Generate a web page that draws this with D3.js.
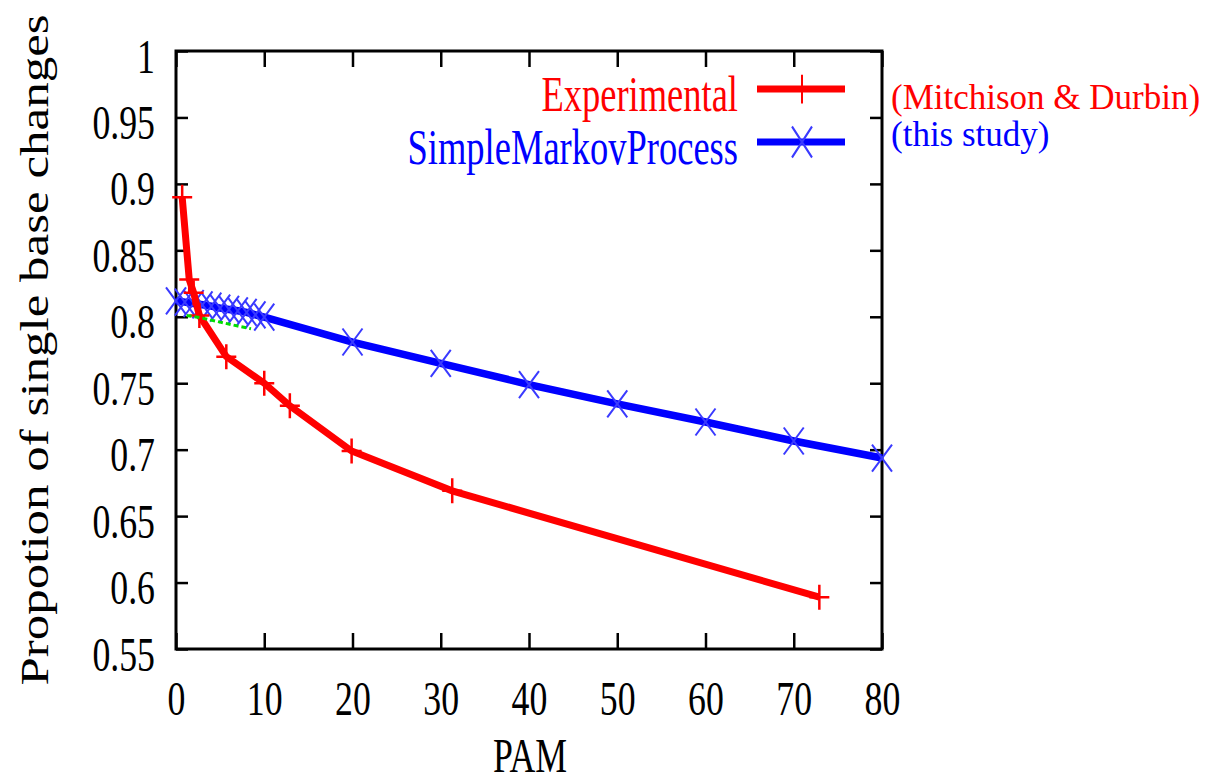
<!DOCTYPE html>
<html>
<head>
<meta charset="utf-8">
<script src="https://cdn.jsdelivr.net/npm/d3@7"></script>
<style>
  body { margin: 0; background: #fff; }
  text { font-family: "Liberation Serif", "Times New Roman", serif; }
</style>
</head>
<body>
<div id="chart"></div>
<script>
// values
var xTicks = [0, 10, 20, 30, 40, 50, 60, 70, 80];
var yTicks = [0.55, 0.6, 0.65, 0.7, 0.75, 0.8, 0.85, 0.9, 0.95, 1];

var expPam = [0.7, 1.5, 2.0, 2.65, 5.7, 10, 12.9, 19.9, 31.3, 72.9];
var expVal = [0.890, 0.828, 0.818, 0.801, 0.770, 0.750, 0.733, 0.699, 0.669, 0.589];

var markovPam = [0, 1, 2, 3, 4, 5, 6, 7, 8, 9, 10, 20, 30, 40, 50, 60, 70, 80];
var markovVal = [0.812, 0.811, 0.810, 0.809, 0.808, 0.8065, 0.8055, 0.8045, 0.8033, 0.8015, 0.7998,
                 0.781, 0.765, 0.749, 0.7345, 0.7208, 0.7065, 0.6937];

var greenPam = [1.2, 3, 5, 7, 8.5];
var greenVal = [0.801, 0.799, 0.796, 0.793, 0.791];

var seriesNames = ['Experimental', 'SimpleMarkovProcess'];
var seriesNotes = ['(Mitchison & Durbin)', '(this study)'];
var seriesColors = ['#ff0000', '#0000ff'];

var squeeze = 0.73;   // the original picture is squashed sideways

var svg = d3.select('#chart').append('svg')
  .attr('width', 1227)
  .attr('height', 784);

var x = d3.scaleLinear().domain([0, 80]).range([176, 882]);
var y = d3.scaleLinear().domain([0.55, 1]).range([649, 51]);

// axes: ticks point inward on all four sides
var bottom = svg.append('g').attr('transform', 'translate(0,649)')
  .call(d3.axisBottom(x).tickValues(xTicks).tickSizeInner(-16).tickSizeOuter(0).tickFormat(d3.format('d')));
var top = svg.append('g').attr('transform', 'translate(0,51)')
  .call(d3.axisTop(x).tickValues(xTicks).tickSizeInner(-16).tickSizeOuter(0).tickFormat(''));
var left = svg.append('g').attr('transform', 'translate(176,0)')
  .call(d3.axisLeft(y).tickValues(yTicks).tickSizeInner(-12).tickSizeOuter(0).tickFormat(d3.format('')));
var right = svg.append('g').attr('transform', 'translate(882,0)')
  .call(d3.axisRight(y).tickValues(yTicks).tickSizeInner(-12).tickSizeOuter(0).tickFormat(''));

svg.selectAll('.domain').remove();
svg.selectAll('.tick line').attr('stroke', '#000').attr('stroke-width', 2.5);

bottom.selectAll('.tick text')
  .attr('y', 0).attr('dy', 0)
  .attr('transform', 'translate(0,66) scale(' + squeeze + ',1)')
  .attr('font-size', 49).attr('fill', '#000');

left.selectAll('.tick text')
  .attr('x', 0).attr('dy', 0)
  .attr('transform', 'translate(-21,21) scale(' + squeeze + ',1)')
  .attr('font-size', 49).attr('fill', '#000');

// frame
svg.append('rect')
  .attr('x', x(0)).attr('y', y(1))
  .attr('width', x(80) - x(0)).attr('height', y(0.55) - y(1))
  .attr('fill', 'none').attr('stroke', '#000').attr('stroke-width', 3);

// axis titles
svg.append('text')
  .attr('transform', 'translate(530,772) scale(' + squeeze + ',1)')
  .attr('text-anchor', 'middle').attr('font-size', 49)
  .text('PAM');

svg.append('text')
  .attr('transform', 'translate(48,350) rotate(-90) scale(1,0.8)')
  .attr('text-anchor', 'middle').attr('font-size', 51)
  .text('Propotion of single base changes');

var line = d3.line().x(function (d) { return x(d[0]); }).y(function (d) { return y(d[1]); });

var plusPath = 'M-10,0H10M0,-12.5V12.5';
var crossPath = 'M-10,-13.5L10,13.5M-10,13.5L10,-13.5';

var markov = markovPam.map(function (p, i) { return [p, markovVal[i]]; });
var exp = expPam.map(function (p, i) { return [p, expVal[i]]; });
var green = greenPam.map(function (p, i) { return [p, greenVal[i]]; });

svg.append('path').datum(markov).attr('d', line)
  .attr('fill', 'none').attr('stroke', seriesColors[1]).attr('stroke-width', 7.5);
svg.selectAll('.mk').data(markov).enter().append('path')
  .attr('class', 'mk').attr('d', crossPath)
  .attr('transform', function (d) { return 'translate(' + x(d[0]) + ',' + y(d[1]) + ')'; })
  .attr('stroke', '#3a3aff').attr('stroke-width', 2).attr('fill', 'none');

svg.append('path').datum(exp).attr('d', line)
  .attr('fill', 'none').attr('stroke', seriesColors[0]).attr('stroke-width', 7);
svg.selectAll('.ex').data(exp).enter().append('path')
  .attr('class', 'ex').attr('d', plusPath)
  .attr('transform', function (d) { return 'translate(' + x(d[0]) + ',' + y(d[1]) + ')'; })
  .attr('stroke', seriesColors[0]).attr('stroke-width', 2.5).attr('fill', 'none');

svg.append('path').datum(green).attr('d', line)
  .attr('fill', 'none').attr('stroke', '#00dd00').attr('stroke-width', 3)
  .attr('stroke-dasharray', '5,3');

// legend
var legendY = [89, 142];
var legendMarks = [plusPath, crossPath];
seriesNames.forEach(function (name, i) {
  svg.append('text')
    .attr('transform', 'translate(738,' + (legendY[i] + 22) + ') scale(' + squeeze + ',1)')
    .attr('text-anchor', 'end').attr('font-size', 50)
    .attr('fill', seriesColors[i])
    .text(name);
  svg.append('line')
    .attr('x1', 757).attr('x2', 845).attr('y1', legendY[i]).attr('y2', legendY[i])
    .attr('stroke', seriesColors[i]).attr('stroke-width', 7);
  svg.append('path').attr('d', legendMarks[i])
    .attr('transform', 'translate(802,' + legendY[i] + ') scale(1,1.15)')
    .attr('stroke', i === 0 ? seriesColors[0] : '#3a3aff').attr('stroke-width', 2).attr('fill', 'none');
  svg.append('text')
    .attr('x', 891).attr('y', i === 0 ? 109 : 146)
    .attr('font-size', 35).attr('fill', seriesColors[i])
    .text(seriesNotes[i]);
});
</script>
</body>
</html>
